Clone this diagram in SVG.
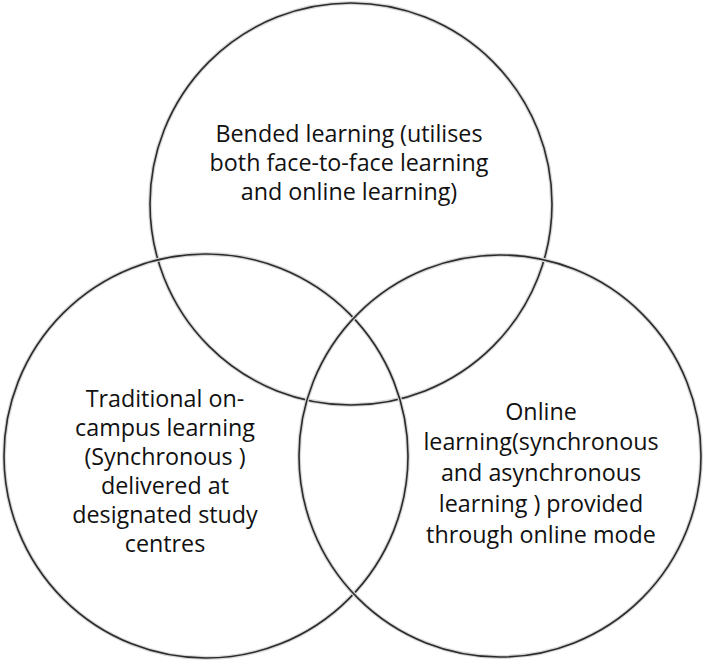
<svg xmlns="http://www.w3.org/2000/svg" width="703" height="661" viewBox="0 0 703 661">
<style>
.halo{fill:none;stroke:#d8d8d8;stroke-width:4}
.ring{fill:none;stroke:#2b2b2b;stroke-width:1.6}
.lbl{font-family:"Open Sans","Liberation Sans",sans-serif;font-size:23.3px;fill:#111;text-anchor:middle}
</style>
<rect width="703" height="661" fill="#fff"/>
<g id="top">
<circle class="halo" cx="351" cy="204" r="201"/>
<circle class="ring" cx="351" cy="204" r="201"/>
</g>
<g id="left">
<circle class="halo" cx="206" cy="456" r="202"/>
<circle class="ring" cx="206" cy="456" r="202"/>
</g>
<g id="right">
<circle class="halo" cx="500" cy="456" r="201"/>
<circle class="ring" cx="500" cy="456" r="201"/>
</g>
<g id="labels">
<text class="lbl" x="349" y="142">Bended learning (utilises</text>
<text class="lbl" x="349" y="171">both face-to-face learning</text>
<text class="lbl" x="349" y="200">and online learning)</text>
<text class="lbl" x="165" y="407">Traditional on-</text>
<text class="lbl" x="165" y="436">campus learning</text>
<text class="lbl" x="165" y="465">(Synchronous )</text>
<text class="lbl" x="165" y="494">delivered at</text>
<text class="lbl" x="165" y="523">designated study</text>
<text class="lbl" x="165" y="552">centres</text>
<text class="lbl" x="541" y="420">Online</text>
<text class="lbl" x="541" y="450">learning(synchronous</text>
<text class="lbl" x="541" y="481">and asynchronous</text>
<text class="lbl" x="541" y="512">learning ) provided</text>
<text class="lbl" x="541" y="543">through online mode</text>
</g>
</svg>
